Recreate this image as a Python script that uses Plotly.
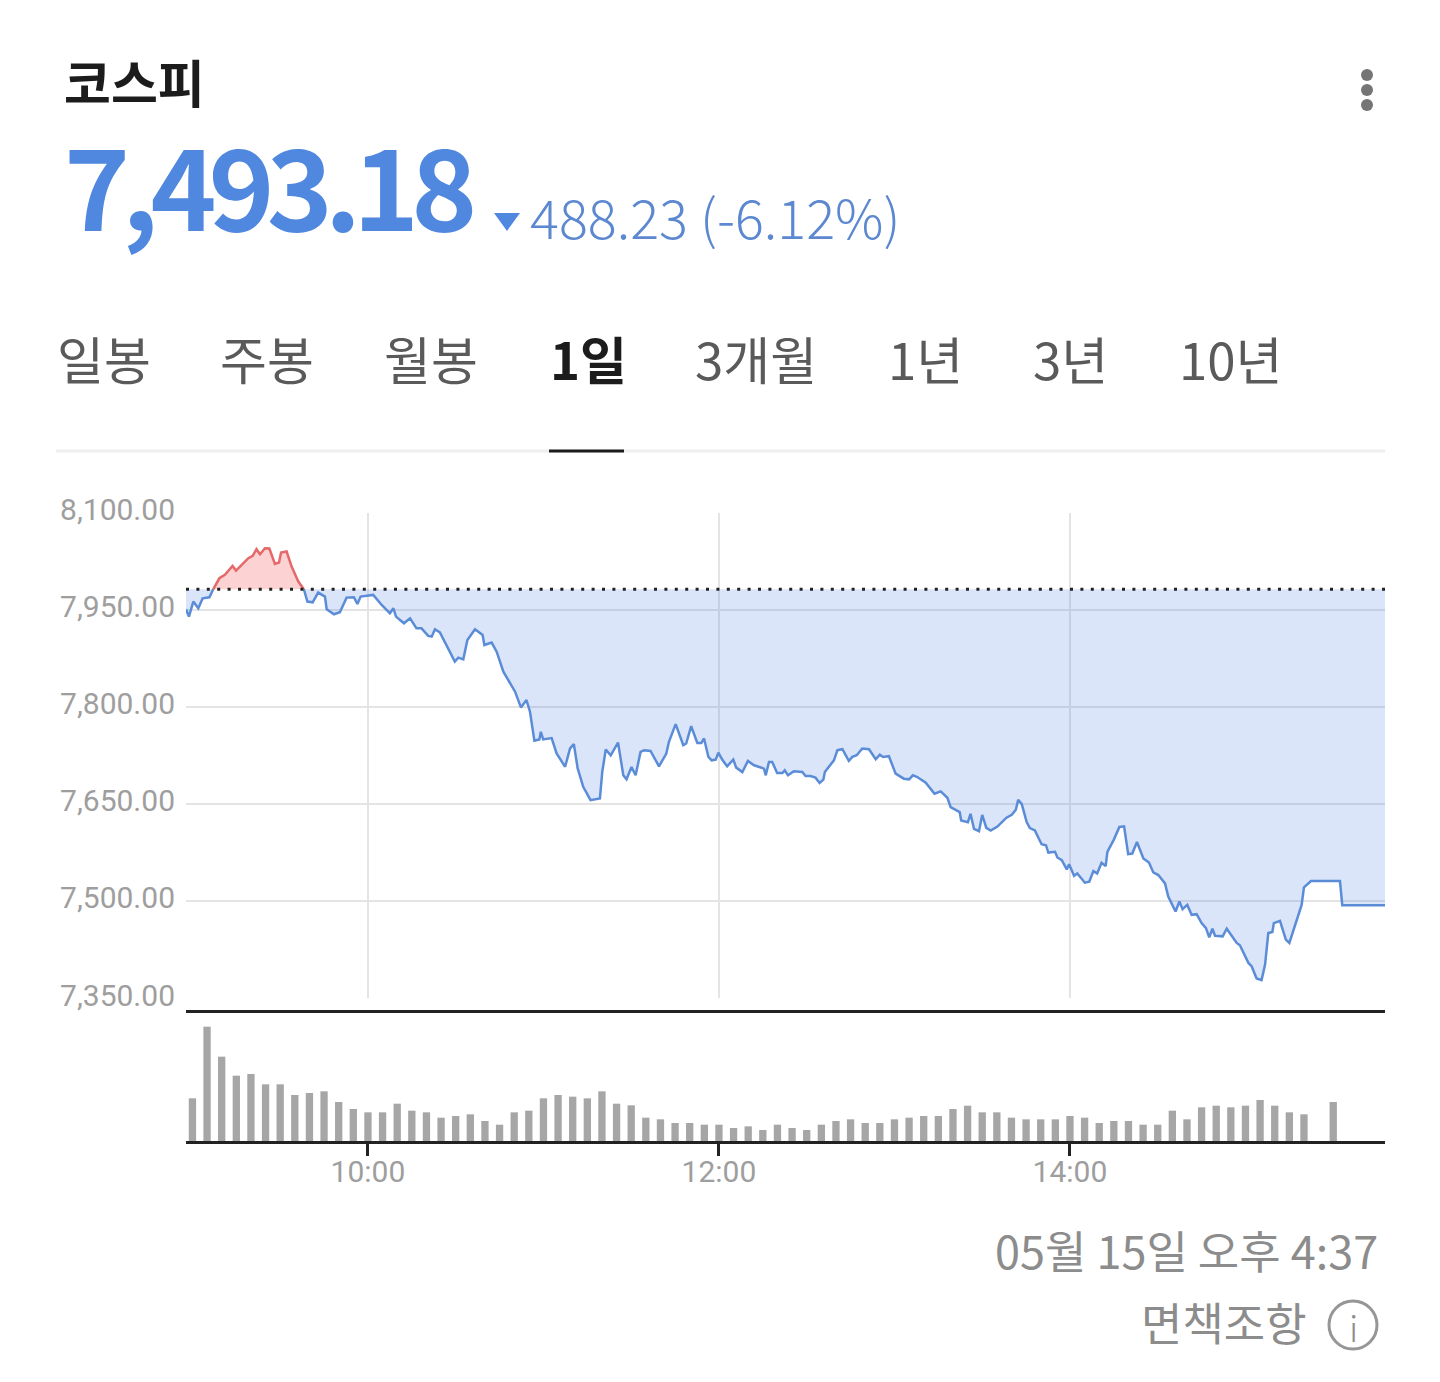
import plotly.graph_objects as go

WIDTH = 1440
HEIGHT = 1382
KR_FONT = 'Noto Sans CJK KR'
AXIS_FONT = 'Roboto'

BASE_PRICE = 7981.41

# minutes since midnight
morning_minutes = [537.8, 538.8, 540.3, 542.0, 543.5, 545.8, 547.1]
morning_prices = [7950.5, 7939.2, 7962.4, 7952.0, 7967.5, 7969.1, 7981.41]

rally_minutes = [547.1, 549.2, 551.1, 553.7, 554.9, 556.8, 559.1, 560.6, 561.9, 563.1, 564.8, 566.3,
                 568.2, 569.6, 570.3, 572.2, 573.9, 576.2, 578.1]
rally_prices = [7981.41, 7998.4, 8003.6, 8017.5, 8010.3, 8019.1, 8029.4, 8033.0, 8043.3, 8035.6, 8044.8, 8044.3,
                8020.6, 8022.7, 8038.1, 8039.7, 8016.5, 7993.3, 7981.41]

fall_minutes = [578.1, 579.3, 581.1, 583.0, 585.3, 585.9, 588.4, 590.4, 592.7, 595.2, 596.4, 597.5,
                601.8, 604.7, 607.5, 608.7, 609.6, 612.3, 614.4, 616.6, 618.3, 620.6, 621.8, 622.9,
                624.6, 626.9, 629.7, 630.9, 632.6, 634.0, 636.6, 639.2, 639.8, 642.3, 644.0, 646.3,
                650.3, 652.3, 654.2, 655.4, 656.9, 658.6, 659.1, 659.9, 662.8, 664.5, 667.4, 669.1,
                670.4, 671.7, 673.6, 676.1, 679.3, 680.1, 681.3, 683.0, 685.5, 687.3, 688.4, 690.1,
                691.5, 693.2, 694.4, 696.6, 699.5, 702.0, 702.9, 705.2, 707.8, 708.8, 710.5, 712.6,
                714.0, 714.9, 716.4, 717.5, 718.9, 719.8, 721.1, 722.8, 724.9, 725.9, 728.0, 729.9,
                732.0, 735.4, 736.0, 737.1, 738.2, 739.9, 741.7, 742.5, 743.6, 745.6, 748.5, 749.6,
                751.3, 753.0, 754.4, 755.7, 756.2, 759.3, 760.5, 762.2, 764.4, 765.6, 767.1, 769.0,
                771.3, 773.6, 775.0, 776.1, 778.1, 780.4, 782.1, 783.2, 785.0, 786.3, 787.8, 790.7,
                793.7, 795.8, 798.1, 799.2, 802.3, 802.8, 805.1, 806.0, 807.2, 808.9, 810.0, 811.4,
                812.9, 815.2, 818.3, 820.1, 821.5, 822.3, 823.5, 825.2, 826.3, 828.0, 830.3, 831.8,
                832.6, 834.9, 835.7, 837.2, 838.9, 839.7, 841.4, 842.5, 845.1, 846.6, 848.0, 849.3,
                850.8, 852.2, 852.8, 855.0, 856.9, 858.5, 859.9, 861.3, 862.9, 865.1, 867.0, 868.5,
                870.2, 872.5, 873.6, 876.1, 877.4, 878.5, 880.1, 881.6, 883.3, 885.0, 886.5, 887.6,
                888.7, 889.6, 892.2, 893.6, 897.0, 898.1, 901.0, 902.1, 903.8, 905.5, 906.7, 907.8,
                909.2, 909.7, 911.8, 913.8, 915.0, 919.2, 920.0, 922.4, 932.3, 933.1, 947.7]
fall_prices = [7981.41, 7962.4, 7961.3, 7976.3, 7970.1, 7950.5, 7942.8, 7945.9, 7968.5, 7969.1, 7958.8, 7970.1,
               7972.7, 7957.2, 7944.3, 7952.0, 7939.2, 7928.9, 7936.6, 7921.1, 7921.1, 7909.3, 7908.2, 7919.6,
               7914.9, 7895.3, 7869.6, 7875.8, 7873.2, 7903.1, 7919.6, 7910.8, 7895.3, 7899.0, 7885.0, 7854.1,
               7823.2, 7798.9, 7810.3, 7792.2, 7747.4, 7749.5, 7761.3, 7749.5, 7751.5, 7727.8, 7707.2, 7735.5,
               7742.2, 7704.6, 7676.3, 7655.6, 7658.2, 7699.1, 7733.8, 7725.0, 7744.7, 7694.0, 7687.8, 7706.9,
               7694.0, 7730.2, 7732.8, 7731.7, 7707.9, 7727.6, 7745.7, 7773.1, 7740.5, 7743.1, 7770.0, 7744.1,
               7744.1, 7750.9, 7722.4, 7717.2, 7718.3, 7729.1, 7718.3, 7707.9, 7718.3, 7705.9, 7699.1, 7716.2,
               7709.5, 7704.3, 7694.0, 7714.7, 7714.7, 7697.6, 7697.6, 7701.7, 7694.0, 7700.2, 7699.1, 7692.9,
               7692.9, 7690.4, 7682.1, 7687.3, 7699.1, 7717.2, 7732.8, 7734.3, 7716.2, 7722.4, 7725.0, 7735.4,
               7734.3, 7718.8, 7726.0, 7722.4, 7723.5, 7696.6, 7691.4, 7688.8, 7687.8, 7694.0, 7691.4, 7682.6,
               7665.5, 7669.1, 7659.3, 7644.8, 7637.1, 7624.2, 7621.6, 7634.5, 7611.2, 7607.6, 7632.9, 7612.8,
               7608.6, 7614.8, 7628.5, 7633.1, 7640.8, 7656.1, 7650.0, 7621.8, 7612.6, 7609.0, 7587.5, 7586.0,
               7574.7, 7575.8, 7567.1, 7563.0, 7548.6, 7556.8, 7538.9, 7542.5, 7528.1, 7529.7, 7546.1, 7542.5,
               7558.9, 7553.7, 7575.8, 7594.7, 7614.2, 7615.2, 7572.2, 7573.2, 7591.1, 7565.5, 7559.4, 7544.0,
               7539.9, 7527.1, 7506.6, 7483.6, 7499.0, 7487.2, 7493.8, 7478.5, 7479.5, 7465.7, 7458.0, 7443.7,
               7457.0, 7446.2, 7445.2, 7457.0, 7435.0, 7431.4, 7404.2, 7399.1, 7380.2, 7377.6, 7401.7, 7450.3,
               7451.9, 7465.7, 7469.3, 7440.1, 7435.0, 7493.8, 7521.0, 7530.7, 7530.7, 7493.18, 7493.18]

# five minute volume bars, no scale on the picture so heights are relative
volume_minutes = list(range(540, 935, 5))
volumes = [128, 343, 253, 196, 201, 170, 170, 138, 144, 149, 117, 96, 86, 86, 112, 91, 86, 70, 75, 80,
           60, 49, 86, 91, 128, 138, 133, 128, 149, 112, 107, 70, 65, 54, 54, 49, 49, 39, 44, 33,
           49, 39, 33, 49, 60, 65, 54, 54, 65, 70, 75, 75, 96, 106, 86, 86, 70, 65, 65, 65,
           75, 70, 54, 60, 60, 49, 49, 91, 65, 101, 106, 101, 106, 123, 106, 86, 80, 0, 117]

price_ticks = [7350, 7500, 7650, 7800, 7950, 8100]
price_labels = ['7,350.00', '7,500.00', '7,650.00', '7,800.00', '7,950.00', '8,100.00']
time_ticks = [600, 720, 840]
time_labels = ['10:00', '12:00', '14:00']

tab_labels = ['일봉', '주봉', '월봉', '1일', '3개월', '1년', '3년', '10년']
tab_lefts = [56, 219, 383, 549, 694, 887, 1032, 1178]

BLUE_LINE = '#5b8cd8'
BLUE_FILL = 'rgba(72,124,224,0.2)'
RED_LINE = '#e5686a'
RED_FILL = 'rgba(244,90,90,0.27)'
GRID = '#e4e4e4'


def fx(px):
    return px / WIDTH


def fy(py):
    return 1 - py / HEIGHT


def add_segment(fig, minutes, prices, line_color, fill_color):
    fig.add_trace(go.Scatter(x=minutes, y=[BASE_PRICE] * len(minutes), mode='lines',
                             line=dict(width=0), hoverinfo='skip'), row=1, col=1)
    fig.add_trace(go.Scatter(x=minutes, y=prices, mode='lines', fill='tonexty', fillcolor=fill_color,
                             line=dict(color=line_color, width=2.5)), row=1, col=1)


def add_text(fig, px, py, text, size, color, anchor='left', weight=400, font=KR_FONT):
    fig.add_annotation(xref='paper', yref='paper', x=fx(px), y=fy(py), text=text, showarrow=False,
                       xanchor=anchor, yanchor='middle', borderpad=0,
                       font=dict(family=font, size=size, color=color, weight=weight))


def add_rule(fig, x0, x1, py, color):
    fig.add_shape(type='line', xref='paper', yref='paper', x0=fx(x0), x1=fx(x1), y0=fy(py), y1=fy(py),
                  line=dict(color=color, width=3))


def add_circle(fig, cx, cy, r, **style):
    fig.add_shape(type='circle', xref='paper', yref='paper', x0=fx(cx - r), x1=fx(cx + r),
                  y0=fy(cy - r), y1=fy(cy + r), **style)


fig = go.Figure()
fig.set_subplots(rows=2, cols=1)

add_segment(fig, morning_minutes, morning_prices, BLUE_LINE, BLUE_FILL)
add_segment(fig, rally_minutes, rally_prices, RED_LINE, RED_FILL)
add_segment(fig, fall_minutes, fall_prices, BLUE_LINE, BLUE_FILL)

# previous close
fig.add_trace(go.Scatter(x=[537.8, 947.7], y=[BASE_PRICE, BASE_PRICE], mode='lines',
                         line=dict(color='#222222', width=3, dash='3px,7.4px')), row=1, col=1)

fig.add_trace(go.Bar(x=volume_minutes, y=volumes, width=2.5, marker=dict(color='#a6a6a6', line_width=0)),
              row=2, col=1)

fig.update_layout(width=WIDTH, height=HEIGHT, margin=dict(l=0, r=0, t=0, b=0, pad=0, autoexpand=False),
                  paper_bgcolor='white', plot_bgcolor='white', showlegend=False,
                  font=dict(family=AXIS_FONT),
                  xaxis=dict(domain=[fx(186), fx(1385)], range=[537.8, 947.7], tickvals=time_ticks,
                             showticklabels=False, showgrid=True, gridcolor=GRID, gridwidth=2,
                             zeroline=False, showline=False, ticks='', automargin=False),
                  yaxis=dict(domain=[fy(998), fy(512.5)], range=[7350, 8100], tickvals=price_ticks,
                             ticktext=price_labels, showgrid=True, gridcolor=GRID, gridwidth=2,
                             zeroline=False, showline=False, ticks='', ticklabelstandoff=10,
                             ticklabelshift=-3, automargin=False,
                             tickfont=dict(family=AXIS_FONT, size=30, color='#9e9e9e')),
                  xaxis2=dict(domain=[fx(186), fx(1385)], range=[537.8, 947.7], tickvals=time_ticks,
                              ticktext=time_labels, showgrid=False, zeroline=False, showline=True,
                              linecolor='#222222', linewidth=3, mirror=True, ticks='outside',
                              ticklen=12, tickwidth=3, tickcolor='#222222', ticklabelstandoff=-10,
                              automargin=False,
                              tickfont=dict(family=AXIS_FONT, size=30, color='#9e9e9e')),
                  yaxis2=dict(domain=[fy(1141), fy(1013)], range=[0, 384], visible=False))

# header
add_text(fig, 63, 81, '코스피', 51, '#1c1c1c', weight=700)
add_text(fig, 63, 182, '<span style="letter-spacing:-8px">7,493.18</span>', 112, '#5088e0', weight=700)
add_text(fig, 529, 215, '488.23 (-6.12%)', 54, '#5b88d0', weight=300)
fig.add_shape(type='path', xref='paper', yref='paper', fillcolor='#5088e0', line_width=0,
              path=f'M {fx(494)} {fy(213)} L {fx(520)} {fy(213)} L {fx(507)} {fy(231)} Z')
for dot_y in [75, 90, 105]:
    add_circle(fig, 1367, dot_y, 6, fillcolor='#757575', line_width=0)

# tabs
for label, left in zip(tab_labels, tab_lefts):
    active = label == '1일'
    add_text(fig, left, 358, label, 51, '#1c1c1c' if active else '#5a5a5a', weight=700 if active else 400)
add_rule(fig, 56, 1385, 451, '#eeeeee')
add_rule(fig, 549, 624, 451, '#1c1c1c')

# footer
add_text(fig, 1379, 1249, '05월 15일 오후 4:37', 45, '#8c8c8c', anchor='right')
add_text(fig, 1308, 1321, '면책조항', 45, '#8c8c8c', anchor='right')
add_circle(fig, 1353, 1325, 24, line=dict(color='#969696', width=3), fillcolor='white')
add_text(fig, 1353, 1326, 'i', 36, '#8c8c8c', anchor='center', weight=300)

fig.write_html('out.html', config={'displayModeBar': False},
               post_script="document.body.style.margin='0';")
